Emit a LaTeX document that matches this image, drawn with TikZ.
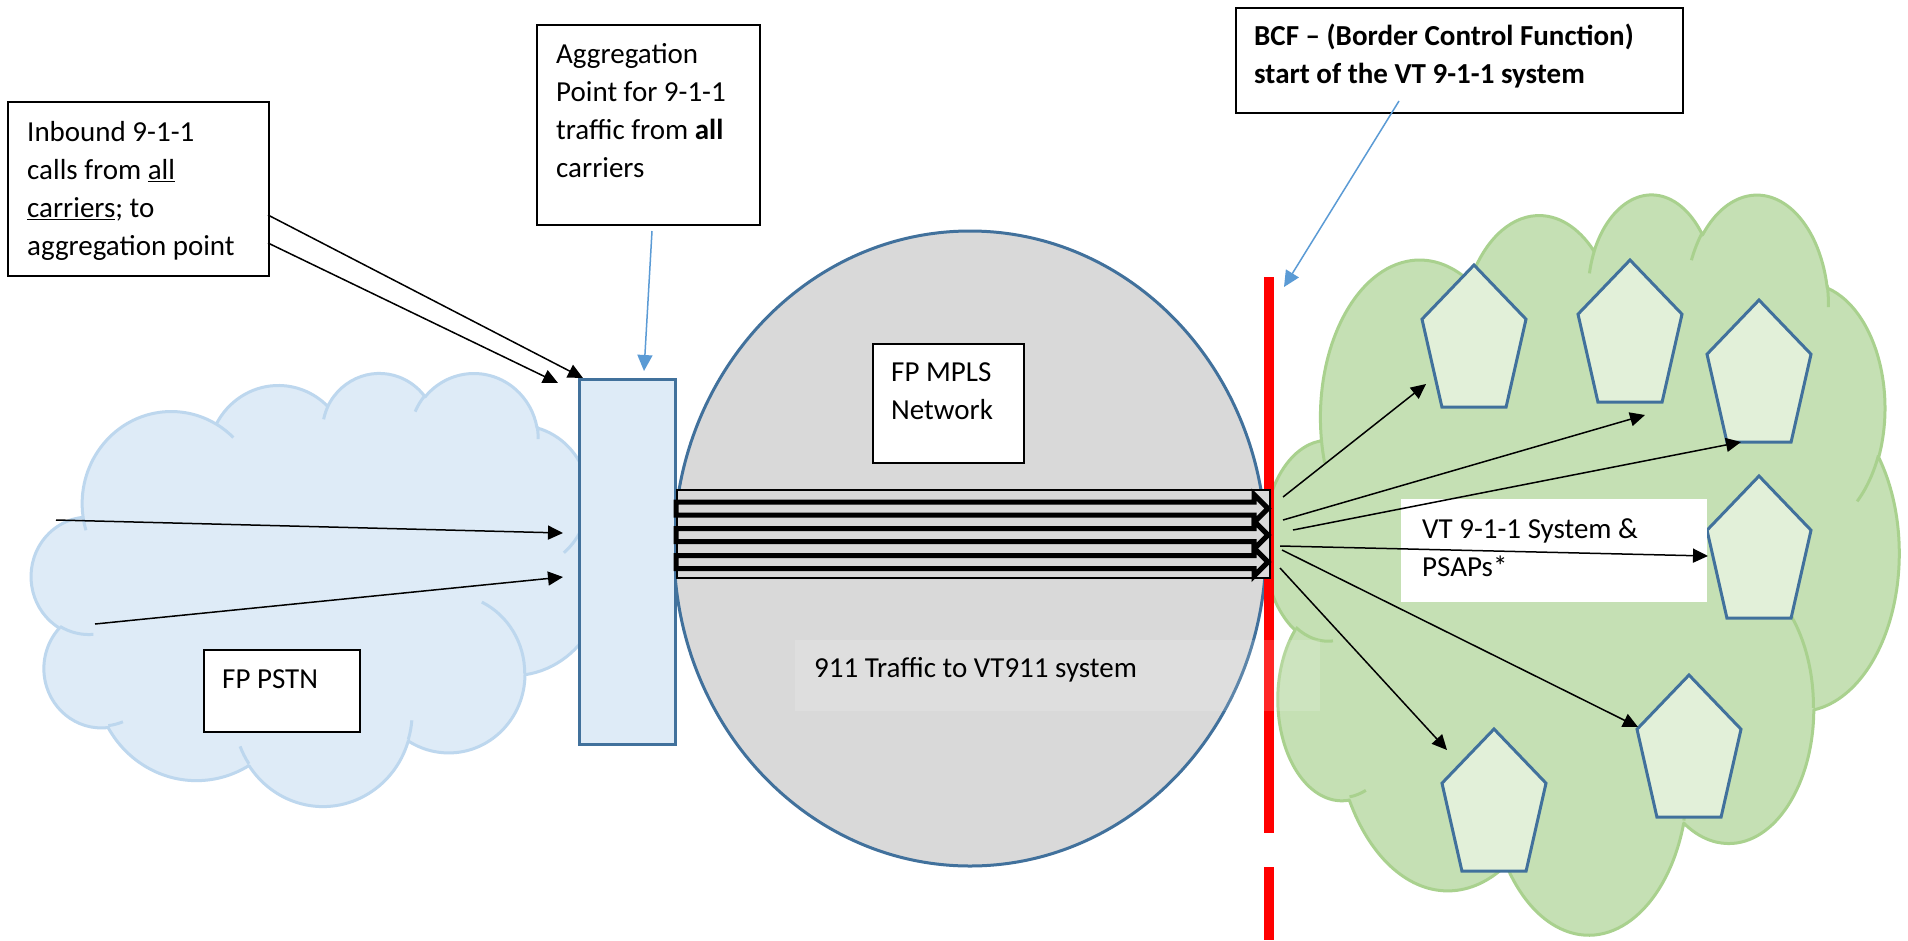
\documentclass[tikz,border=0pt]{standalone}
\usepackage{fontspec}
\setmainfont{Carlito}
\usetikzlibrary{arrows.meta,shapes.geometric}
\definecolor{cloudblue}{HTML}{DEEBF7}
\definecolor{cloudblueline}{HTML}{BDD7EE}
\definecolor{cloudgreen}{HTML}{C5E0B4}
\definecolor{cloudgreenline}{HTML}{A9D18E}
\definecolor{pentfill}{HTML}{E2F0D9}
\definecolor{steel}{HTML}{41719C}
\definecolor{grayfill}{HTML}{D9D9D9}
\definecolor{arrowblue}{HTML}{5B9BD5}

\pgfmathdeclarefunction{vtp}{3}{%
  \begingroup
    \pgfmathparse{atan2((#2)*sin(#1),(#3)*cos(#1))-(#1)}%
    \pgfmathparse{(#1)+(\pgfmathresult)-360*round((\pgfmathresult)/360)}%
    \pgfmathsmuggle\pgfmathresult
  \endgroup}

\newcommand\oa[4]{arc[start angle={vtp(#3,#1,#2)},end angle={vtp(#3+#4,#1,#2)},x radius=#1,y radius=#2]}
\newcommand\cloudouter{(39.00,143.70)
 \oa{67.53}{91.90}{-190.4875}{123.7805}
 \oa{53.33}{72.67}{-144.1024}{89.9452}
 \oa{43.65}{59.45}{-145.8079}{99.7230}
 \oa{48.57}{65.95}{-130.9861}{117.2417}
 \oa{53.33}{72.73}{-78.7089}{109.0269}
 \oa{67.75}{92.20}{-46.2673}{130.2690}
 \oa{57.85}{78.67}{0.6250}{114.0333}
 \oa{67.52}{92.15}{22.4516}{115.1726}
 \oa{77.20}{105.43}{66.2426}{75.7110}
 \oa{43.60}{59.18}{-274.9421}{146.7356}
 \oa{43.45}{59.45}{-246.8285}{152.5189}
 -- cycle}
\newcommand\cloudinner{%
 (46.93,261.77) \oa{43.45}{59.45}{86.7420}{26.4295}
 (69.28,348.99) \oa{43.60}{59.18}{73.6105}{11.4475}
 (164.78,390.90) \oa{67.52}{92.15}{137.6241}{14.0811}
 (288.27,347.51) \oa{67.52}{92.15}{6.4533}{15.9984}
 (341.29,229.54) \oa{57.85}{78.67}{-70.2924}{70.9174}
 (417.98,153.54) \oa{53.33}{72.73}{30.3180}{27.7515}
 (383.24,54.26) \oa{48.57}{65.95}{-13.7443}{14.8589}
 (290.78,39.52) \oa{48.57}{65.95}{-149.1815}{18.1954}
 (221.41,47.20) \oa{43.65}{59.45}{-163.4943}{17.8359}
 (140.00,51.92) \oa{67.53}{91.90}{-66.7070}{12.3194}
 (41.27,157.89) \oa{67.53}{91.90}{157.6544}{11.8582}}
\newcommand\drawcloud[6]{%
 \begin{scope}[shift={(#1,#2)},x={(#3pt,0pt)},y={(0pt,-#4pt)}]
   \fill[#5] \cloudouter;
   \draw[#6,line width=3pt,line join=round] \cloudouter \cloudinner;
 \end{scope}}
\newcommand\pent[3]{\draw[pentst] (#2,#3) coordinate (#1) -- ++(52,54.2) -- ++(-19.9,87.8) -- ++(-64.2,0) -- ++(-19.9,-87.8) -- cycle;}

\begin{document}
\begin{tikzpicture}[x=1pt,y=-1pt,
  tbox/.style={draw=black,line width=2pt,fill=white,inner sep=0pt,anchor=north west},
  txt/.style={inner sep=0pt,anchor=base west,font=\fontsize{29}{38.2}\selectfont},
  pentst/.style={draw=steel,fill=pentfill,line width=3pt,line join=miter},
  blk/.style={draw=black,line width=1.5pt,-{Triangle[length=15pt,width=14pt]}},
  blu/.style={draw=arrowblue,line width=1.5pt,-{Triangle[length=16pt,width=15pt]}},
  stripe/.style={draw=black,line width=5pt,fill=grayfill,line join=miter}]
\fill[white] (0,0) rectangle (1908,940);
\useasboundingbox (0,0) rectangle (1908,940);

% left cloud (FP PSTN)
\drawcloud{31.5}{372}{1.3194}{1.0023}{cloudblue}{cloudblueline}

% MPLS ellipse
\node[ellipse,draw=steel,line width=3pt,fill=grayfill,minimum width=592pt,minimum height=635pt,inner sep=0pt] (mpls) at (970,548.5) {};

% right cloud (VT 9-1-1)
\drawcloud{1264}{192.5}{1.4699}{1.7130}{cloudgreen}{cloudgreenline}

% aggregation point
\node[draw=steel,line width=3pt,fill=cloudblue,minimum width=96pt,minimum height=365pt,inner sep=0pt,anchor=north west] (agg) at (578,378) {};

% BCF red line
\coordinate (r1) at (1269,277); \coordinate (r2) at (1269,833);
\coordinate (r3) at (1269,867); \coordinate (r4) at (1269,940);
\draw[red,line width=10pt] (r1) -- (r2) (r3) -- (r4);

% striped traffic arrows
\node[draw=black,line width=2pt,fill=grayfill,minimum width=593pt,minimum height=88pt,anchor=north west,inner sep=0pt] (stripes) at (676,489) {};
\foreach \c in {508.5,535,562}{
  \draw[stripe] (676,\c-6.5) -- (1254,\c-6.5) -- (1254,\c-14) -- (1268,\c) -- (1254,\c+14) -- (1254,\c+6.5) -- (676,\c+6.5) -- cycle;
}

% translucent label box
\node[fill=white,fill opacity=0.15,minimum width=525pt,minimum height=71pt,anchor=north west,inner sep=0pt] (trfbox) at (795,640) {};
\node[txt] (trf) at (814,677) {911 Traffic to VT911 system};

% PSAP pentagons
\pent{p1}{1474}{265}
\pent{p2}{1630}{260}
\pent{p3}{1759}{300}
\pent{p4}{1759}{476}
\pent{p5}{1494}{729}
\pent{p6}{1689}{675}

% VT label
\node[fill=white,minimum width=306pt,minimum height=103pt,anchor=north west,inner sep=0pt] (vtbox) at (1401,499) {};
\node[txt] (vt) at (1422,538) {\parbox[t]{290pt}{\raggedright VT 9-1-1 System \&\\PSAPs*}};

% arrows into the VT system
\coordinate (g1s) at (1283,497); \coordinate (g1e) at (1426,384);
\coordinate (g2s) at (1283,520); \coordinate (g2e) at (1645,415);
\coordinate (g3s) at (1293,530); \coordinate (g3e) at (1741,442);
\coordinate (g4s) at (1280,546); \coordinate (g4e) at (1708,556);
\coordinate (g5s) at (1282,550); \coordinate (g5e) at (1638,727);
\coordinate (g6s) at (1280,568); \coordinate (g6e) at (1447,750);
\draw[blk] (g1s) -- (g1e);
\draw[blk] (g2s) -- (g2e);
\draw[blk] (g3s) -- (g3e);
\draw[blk] (g4s) -- (g4e);
\draw[blk] (g5s) -- (g5e);
\draw[blk] (g6s) -- (g6e);

% arrows in the PSTN cloud
\coordinate (c1s) at (56,520); \coordinate (c1e) at (563,533);
\coordinate (c2s) at (95,624); \coordinate (c2e) at (563,577);
\draw[blk] (c1s) -- (c1e);
\draw[blk] (c2s) -- (c2e);

% FP PSTN label
\node[tbox,minimum width=156pt,minimum height=82pt] (pstnbox) at (203,649) {};
\node[txt] (pstn) at (222,688) {FP PSTN};

% FP MPLS label
\node[tbox,minimum width=151pt,minimum height=119pt] (mplsbox) at (872,343) {};
\node[txt] (mplst) at (891,381) {\parbox[t]{140pt}{\raggedright FP MPLS\\Network}};

% inbound callout
\node[tbox,minimum width=261pt,minimum height=174pt] (inb) at (7,101) {};
\node[txt] (inbt) at (27,141) {\parbox[t]{240pt}{\raggedright Inbound 9-1-1\\calls from \underline{all}\\\underline{carriers}; to\\aggregation point}};
\coordinate (i1s) at (268,215); \coordinate (i1e) at (583,378);
\coordinate (i2s) at (268,243); \coordinate (i2e) at (558,383);
\draw[blk] (i1s) -- (i1e);
\draw[blk] (i2s) -- (i2e);

% aggregation callout
\node[tbox,minimum width=223pt,minimum height=200pt] (aggbox) at (536,24) {};
\node[txt] (aggt) at (556,63) {\parbox[t]{200pt}{\raggedright Aggregation\\Point for 9-1-1\\traffic from \textbf{all}\\carriers}};
\coordinate (a1s) at (652,231); \coordinate (a1e) at (644,371);
\draw[blu] (a1s) -- (a1e);

% BCF callout
\node[tbox,minimum width=447pt,minimum height=105pt] (bcf) at (1235,7) {};
\node[txt] (bcft) at (1254,45) {\parbox[t]{430pt}{\raggedright\bfseries BCF – (Border Control Function)\\start of the VT 9-1-1 system}};
\coordinate (b1s) at (1399,101); \coordinate (b1e) at (1284,287);
\draw[blu] (b1s) -- (b1e);
\end{tikzpicture}
\end{document}
